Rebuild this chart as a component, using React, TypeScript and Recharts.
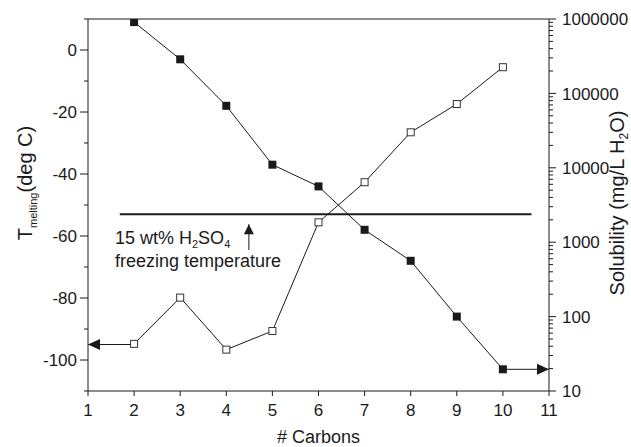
import React from "react";
import { ComposedChart, Line, XAxis, YAxis, ReferenceDot, Label } from "recharts";

// values
const carbons = [2, 3, 4, 5, 6, 7, 8, 9, 10];
const meltingT = [9, -3, -18, -37, -44, -58, -68, -86, -103];
const solubility = [43, 180, 36, 64, 1850, 6400, 30000, 72000, 225000];

const xTicks = [1, 2, 3, 4, 5, 6, 7, 8, 9, 10, 11];
const tempMajorTicks = [-100, -80, -60, -40, -20, 0];
const tempAllTicks = [-110, -100, -90, -80, -70, -60, -50, -40, -30, -20, -10, 0, 10];
const solMajorTicks = [10, 100, 1000, 10000, 100000, 1000000];
const solDecades = [10, 100, 1000, 10000, 100000];
const solFactors = [2, 3, 4, 5, 6, 7, 8, 9];
const solAllTicks = [
  ...solMajorTicks,
  ...solDecades.flatMap((d) => solFactors.map((f) => d * f)),
].sort((a, b) => a - b);

const freezingT = -53;
const freezingSpan = [1.69, 10.62];
const leftArrowSpan = [1, 2];
const leftArrowT = -95;
const rightArrowSpan = [10, 11];
const rightArrowT = -103;
const upArrowC = 4.49;
const upArrowSpan = [-64.5, -56.2];

const meltRows = carbons.map((c, i) => ({ c, t: meltingT[i] }));
const solRows = carbons.map((c, i) => ({ c, s: solubility[i] }));
const freezeRows = freezingSpan.map((c) => ({ c, t: freezingT }));
const leftArrowRows = leftArrowSpan.map((c) => ({ c, t: leftArrowT }));
const rightArrowRows = rightArrowSpan.map((c) => ({ c, t: rightArrowT }));
const upArrowRows = upArrowSpan.map((t) => ({ c: upArrowC, t }));

const FONT = "'Liberation Sans', Arial, Helvetica, sans-serif";
const INK = "#1a1a1a";

const FilledSquare = (p: any) => (
  <rect key={`f${p.index}`} x={p.cx - 4} y={p.cy - 4} width={8} height={8} fill={INK} />
);
const OpenSquare = (p: any) => (
  <rect
    key={`o${p.index}`}
    x={p.cx - 3.5}
    y={p.cy - 3.5}
    width={7}
    height={7}
    fill="#fff"
    stroke="#333"
    strokeWidth={1}
  />
);

const leftHead = (p: any) =>
  p.index === 0 ? (
    <polygon
      key="lh"
      points={`${p.cx},${p.cy} ${p.cx + 12},${p.cy - 5.5} ${p.cx + 12},${p.cy + 5.5}`}
      fill={INK}
    />
  ) : (
    <g key={`lh${p.index}`} />
  );
const rightHead = (p: any) =>
  p.index === 1 ? (
    <polygon
      key="rh"
      points={`${p.cx},${p.cy} ${p.cx - 12},${p.cy - 5.5} ${p.cx - 12},${p.cy + 5.5}`}
      fill={INK}
    />
  ) : (
    <g key={`rh${p.index}`} />
  );
const upHead = (p: any) =>
  p.index === 1 ? (
    <polygon
      key="uh"
      points={`${p.cx},${p.cy} ${p.cx - 5},${p.cy + 10} ${p.cx + 5},${p.cy + 10}`}
      fill={INK}
    />
  ) : (
    <g key={`uh${p.index}`} />
  );

const tickStyle = { fill: INK, fontSize: 17, fontFamily: FONT };

// left axis: long ticks with labels every 20, short ones every 10
const TempTick = (p: any) => {
  const v = p.payload.value;
  const major = tempMajorTicks.includes(v);
  const ax = p.x + 8 + 3;
  return (
    <g>
      <line x1={ax} x2={ax - (major ? 8 : 4)} y1={p.y} y2={p.y} stroke={INK} />
      {major && (
        <text x={ax - 11} y={p.y} dy="0.36em" textAnchor="end" {...tickStyle}>
          {v}
        </text>
      )}
    </g>
  );
};

// right log axis: decades labelled, 2..9 minor ticks
const SolTick = (p: any) => {
  const v = p.payload.value;
  const major = solMajorTicks.includes(v);
  const ax = p.x - 7 - 6;
  return (
    <g>
      <line x1={ax} x2={ax + (major ? 7 : 4)} y1={p.y} y2={p.y} stroke={INK} />
      {major && (
        <text x={ax + 13} y={p.y} dy="0.36em" textAnchor="start" {...tickStyle}>
          {v}
        </text>
      )}
    </g>
  );
};

// top frame: inward ticks, no labels
const TopTick = (p: any) => (
  <line x1={p.x} x2={p.x} y1={p.y} y2={p.y + 4} stroke={INK} />
);

export default function App() {
  return (
    <div style={{ position: "fixed", left: 0, top: 0, width: 631, height: 447, background: "#fff" }}>
      <ComposedChart width={631} height={447} margin={{ top: 18, right: 0, bottom: 0, left: 0 }}>
        <XAxis
          xAxisId="bottom"
          type="number"
          dataKey="c"
          domain={[1, 11]}
          ticks={xTicks}
          interval={0}
          allowDataOverflow
          height={56}
          tickSize={5}
          tickMargin={8}
          stroke={INK}
          tick={tickStyle}
        >
          <Label
            content={({ viewBox }: any) => (
              <text
                x={viewBox.x + viewBox.width / 2}
                y={viewBox.y + 52}
                textAnchor="middle"
                fontSize={18}
                fontFamily={FONT}
                fill={INK}
              >
                # Carbons
              </text>
            )}
          />
        </XAxis>
        <XAxis
          xAxisId="top"
          orientation="top"
          type="number"
          domain={[1, 11]}
          ticks={xTicks}
          interval={0}
          allowDataOverflow
          height={1}
          tickSize={0}
          tickMargin={0}
          tickLine={false}
          tick={TopTick}
          stroke={INK}
        />
        <YAxis
          yAxisId="temp"
          orientation="left"
          type="number"
          domain={[-110, 10]}
          ticks={tempAllTicks}
          interval={0}
          allowDataOverflow
          width={88}
          tickSize={8}
          tickMargin={3}
          tickLine={false}
          stroke={INK}
          tick={TempTick}
        >
          <Label
            content={({ viewBox }: any) => {
              const cx = viewBox.x + 32;
              const cy = viewBox.y + viewBox.height / 2 - 22;
              return (
                <text
                  x={cx}
                  y={cy}
                  transform={`rotate(-90, ${cx}, ${cy})`}
                  textAnchor="middle"
                  fontSize={20}
                  fontFamily={FONT}
                  fill={INK}
                >
                  T
                  <tspan fontSize={11} dy={5}>
                    melting
                  </tspan>
                  <tspan dy={-5}>(deg C)</tspan>
                </text>
              );
            }}
          />
        </YAxis>
        <YAxis
          yAxisId="sol"
          orientation="right"
          type="number"
          scale="log"
          domain={[10, 1000000]}
          ticks={solAllTicks}
          interval={0}
          allowDataOverflow
          width={82}
          tickSize={7}
          tickMargin={6}
          tickLine={false}
          stroke={INK}
          tick={SolTick}
        >
          <Label
            content={({ viewBox }: any) => {
              const cx = viewBox.x + 75;
              const cy = viewBox.y + viewBox.height / 2 - 2;
              return (
                <text
                  x={cx}
                  y={cy}
                  transform={`rotate(-90, ${cx}, ${cy})`}
                  textAnchor="middle"
                  fontSize={20}
                  fontFamily={FONT}
                  fill={INK}
                >
                  Solubility (mg/L H
                  <tspan fontSize={12} dy={4}>
                    2
                  </tspan>
                  <tspan dy={-4}>O)</tspan>
                </text>
              );
            }}
          />
        </YAxis>

        <Line
          data={freezeRows}
          xAxisId="bottom"
          yAxisId="temp"
          dataKey="t"
          stroke={INK}
          strokeWidth={2}
          dot={false}
          isAnimationActive={false}
        />
        <Line
          data={leftArrowRows}
          xAxisId="bottom"
          yAxisId="temp"
          dataKey="t"
          stroke={INK}
          strokeWidth={1}
          dot={leftHead}
          isAnimationActive={false}
        />
        <Line
          data={rightArrowRows}
          xAxisId="bottom"
          yAxisId="temp"
          dataKey="t"
          stroke={INK}
          strokeWidth={1}
          dot={rightHead}
          isAnimationActive={false}
        />
        <Line
          data={upArrowRows}
          xAxisId="bottom"
          yAxisId="temp"
          dataKey="t"
          stroke={INK}
          strokeWidth={1}
          dot={upHead}
          isAnimationActive={false}
        />
        <Line
          data={solRows}
          xAxisId="bottom"
          yAxisId="sol"
          dataKey="s"
          stroke={INK}
          strokeWidth={1}
          dot={OpenSquare}
          isAnimationActive={false}
        />
        <Line
          data={meltRows}
          xAxisId="bottom"
          yAxisId="temp"
          dataKey="t"
          stroke={INK}
          strokeWidth={1}
          dot={FilledSquare}
          isAnimationActive={false}
        />
        <ReferenceDot
          xAxisId="bottom"
          yAxisId="temp"
          x={1.585}
          y={-62.5}
          r={0}
          shape={(p: any) => (
            <text x={p.cx} y={p.cy} fontSize={18} fontFamily={FONT} fill={INK}>
              <tspan>
                15 wt% H
                <tspan fontSize={11} dy={4}>
                  2
                </tspan>
                <tspan dy={-4}>SO</tspan>
                <tspan fontSize={11} dy={4}>
                  4
                </tspan>
              </tspan>
              <tspan x={p.cx} dy={19}>
                freezing temperature
              </tspan>
            </text>
          )}
        />
      </ComposedChart>
    </div>
  );
}
